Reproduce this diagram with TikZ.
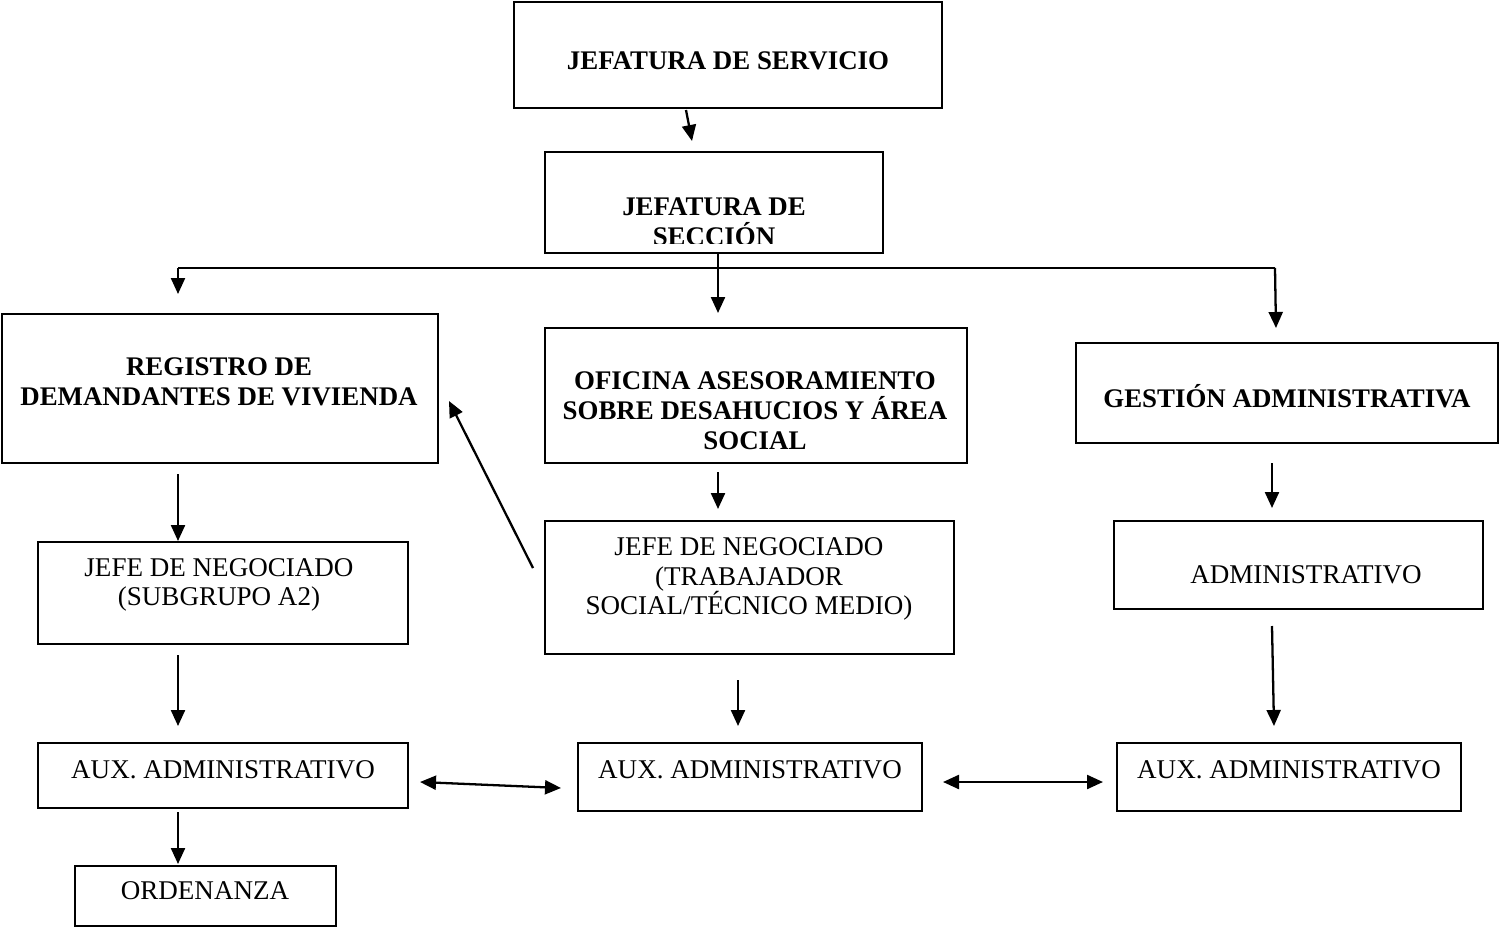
\documentclass[tikz,border=0pt]{standalone}
\usepackage{fontspec}
\setmainfont{Liberation Serif}
\usetikzlibrary{arrows.meta}
\begin{document}
\begin{tikzpicture}[x=0.02cm,y=-0.02cm,
  box/.style={draw,line width=1.2pt,inner sep=0pt},
  lbl/.style={align=center,inner sep=0pt,font=\fontsize{15.4}{16.8}\selectfont},
  blbl/.style={align=center,inner sep=0pt,font=\fontsize{15.3}{17}\selectfont\bfseries},
  arr/.style={line width=1.3pt,-{Triangle[length=0.32cm,width=0.28cm]}},
  darr/.style={line width=1.3pt,{Triangle[length=0.32cm,width=0.28cm]}-{Triangle[length=0.32cm,width=0.28cm]}},
  ln/.style={line width=1.3pt}]
\useasboundingbox (0,0) rectangle (1499,930);

% boxes
\node[box,minimum width=8.56cm,minimum height=2.12cm] (serv) at (728,55) {};
\node[box,minimum width=6.76cm,minimum height=2.02cm] (secc) at (714,202.5) {};
\node[box,minimum width=8.72cm,minimum height=2.98cm] (reg) at (220,388.5) {};
\node[box,minimum width=8.44cm,minimum height=2.70cm] (ofi) at (756,395.5) {};
\node[box,minimum width=8.44cm,minimum height=2.00cm] (gest) at (1287,393) {};
\node[box,minimum width=7.40cm,minimum height=2.04cm] (jn1) at (223,593) {};
\node[box,minimum width=8.18cm,minimum height=2.66cm] (jn2) at (749.5,587.5) {};
\node[box,minimum width=7.38cm,minimum height=1.76cm] (adm) at (1298.5,565) {};
\node[box,minimum width=7.40cm,minimum height=1.30cm] (aux1) at (223,775.5) {};
\node[box,minimum width=6.88cm,minimum height=1.36cm] (aux2) at (750,777) {};
\node[box,minimum width=6.88cm,minimum height=1.36cm] (aux3) at (1289,777) {};
\node[box,minimum width=5.22cm,minimum height=1.20cm] (ord) at (205.5,896) {};

% texts
\node[blbl] (servt) at (728,61) {JEFATURA DE SERVICIO};
\begin{scope}
  \clip (546,153) rectangle (882,243);
  \node[blbl] (secct) at (714,222) {JEFATURA DE\\SECCIÓN};
\end{scope}
\node[blbl] (regt) at (219,382) {REGISTRO DE\\DEMANDANTES DE VIVIENDA};
\node[blbl] (ofit) at (755,411) {OFICINA ASESORAMIENTO\\SOBRE DESAHUCIOS Y ÁREA\\SOCIAL};
\node[blbl] (gestt) at (1287,396) {GESTIÓN ADMINISTRATIVA};
\node[lbl] (jn1t) at (219,585) {JEFE DE NEGOCIADO\\(SUBGRUPO A2)};
\node[lbl] (jn2t) at (749,579) {JEFE DE NEGOCIADO\\(TRABAJADOR\\SOCIAL/TÉCNICO MEDIO)};
\node[lbl] (admt) at (1306,575) {ADMINISTRATIVO};
\node[lbl] (aux1t) at (223,770) {AUX. ADMINISTRATIVO};
\node[lbl] (aux2t) at (750,770) {AUX. ADMINISTRATIVO};
\node[lbl] (aux3t) at (1289,770) {AUX. ADMINISTRATIVO};
\node[lbl] (ordt) at (205,891) {ORDENANZA};

% connector coordinates
\coordinate (a1s) at (686,110); \coordinate (a1e) at (692,141);
\coordinate (hl) at (178,268); \coordinate (hr) at (1275,268);
\coordinate (hle) at (178,294);
\coordinate (cs) at (718,253); \coordinate (ce) at (718,313);
\coordinate (hre) at (1276,328);
\coordinate (b1s) at (178,474); \coordinate (b1e) at (178,541);
\coordinate (b2s) at (718,472); \coordinate (b2e) at (718,509);
\coordinate (b3s) at (1272,463); \coordinate (b3e) at (1272,508);
\coordinate (c1s) at (178,655); \coordinate (c1e) at (178,726);
\coordinate (c2s) at (738,680); \coordinate (c2e) at (738,726);
\coordinate (c3s) at (1272,626); \coordinate (c3e) at (1274,726);
\coordinate (d1s) at (178,812); \coordinate (d1e) at (178,864);
\coordinate (e1s) at (420,782); \coordinate (e1e) at (561,788);
\coordinate (e2s) at (943,782); \coordinate (e2e) at (1103,782);
\coordinate (fs) at (533,568); \coordinate (fe) at (449,401);

% connectors
\draw[arr] (a1s) -- (a1e);
\draw[ln] (hl) -- (hr);
\draw[arr] (hl) -- (hle);
\draw[arr] (cs) -- (ce);
\draw[arr] (hr) -- (hre);
\draw[arr] (b1s) -- (b1e);
\draw[arr] (b2s) -- (b2e);
\draw[arr] (b3s) -- (b3e);
\draw[arr] (c1s) -- (c1e);
\draw[arr] (c2s) -- (c2e);
\draw[arr] (c3s) -- (c3e);
\draw[arr] (d1s) -- (d1e);
\draw[darr] (e1s) -- (e1e);
\draw[darr] (e2s) -- (e2e);
\draw[arr] (fs) -- (fe);
\end{tikzpicture}
\end{document}
